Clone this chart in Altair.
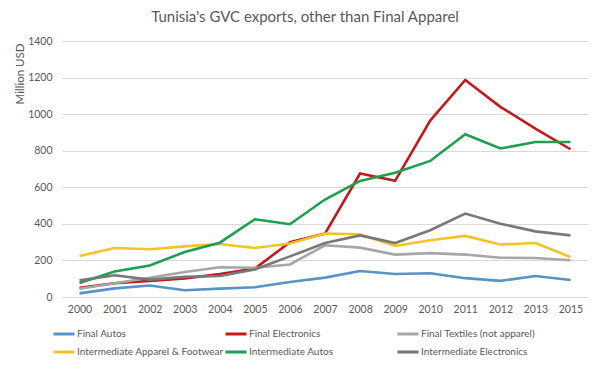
import altair as alt
import pandas as pd

years = ["2000", "2001", "2002", "2003", "2004", "2005", "2006", "2007",
         "2008", "2009", "2010", "2011", "2012", "2013", "2015"]

series_names = [
    "Final Autos",
    "Final Electronics",
    "Final Textiles (not apparel)",
    "Intermediate Apparel & Footwear",
    "Intermediate Autos",
    "Intermediate Electronics",
]

final_autos = [20, 47, 63, 37, 46, 53, 82, 106, 142, 126, 130, 103, 88, 115, 93]
final_electronics = [50, 75, 88, 102, 125, 155, 300, 347, 675, 635, 965, 1187, 1040, 921, 808]
final_textiles = [45, 75, 105, 137, 163, 160, 178, 283, 270, 232, 240, 232, 215, 213, 201]
inter_apparel = [224, 268, 261, 277, 290, 268, 293, 347, 343, 279, 310, 334, 287, 295, 219]
inter_autos = [77, 140, 172, 246, 297, 425, 398, 533, 635, 679, 744, 890, 812, 848, 848]
inter_electronics = [91, 119, 95, 110, 115, 150, 222, 295, 337, 295, 365, 456, 401, 359, 337]

colors = ["#5693C9", "#C4191B", "#A6A6A6", "#F5C227", "#1C9F4E", "#787878"]

all_values = [final_autos, final_electronics, final_textiles,
              inter_apparel, inter_autos, inter_electronics]

rows = []
for name, vals in zip(series_names, all_values):
    for y, v in zip(years, vals):
        rows.append({"Year": y, "Value": v, "Series": name})
df = pd.DataFrame(rows)

FONT = "Lato"
TXT = "#595959"

chart = alt.Chart(df).mark_line(strokeWidth=2.6, strokeJoin="miter").encode(
    x=alt.X("Year:O", sort=years,
            scale=alt.Scale(type="point", padding=0.5),
            axis=alt.Axis(title=None, labelAngle=0, domain=False, ticks=False,
                          labelPadding=7, labelFontSize=10.5, labelColor=TXT,
                          labelFont=FONT)),
    y=alt.Y("Value:Q", scale=alt.Scale(domain=[0, 1400]),
            axis=alt.Axis(title="Million USD", values=[0, 200, 400, 600, 800, 1000, 1200, 1400],
                          format="d",
                          domain=False, ticks=False, labelPadding=10,
                          labelFontSize=10.5, labelColor=TXT, labelFont=FONT,
                          grid=True, gridColor="#D9D9D9", gridWidth=1,
                          titleFont=FONT, titleFontSize=11.5, titleColor=TXT,
                          titleFontWeight="normal", titleAngle=-90,
                          titleX=-42, titleY=2, titleAlign="right",
                          titleBaseline="middle")),
    color=alt.Color("Series:N", sort=series_names,
                    scale=alt.Scale(domain=series_names, range=colors),
                    legend=alt.Legend(title=None, orient="none", legendX=-10, legendY=281,
                                      direction="horizontal",
                                      columns=3, gridAlign="all", columnPadding=-8,
                                      rowPadding=0, symbolType="stroke",
                                      symbolSize=441, symbolStrokeWidth=3,
                                      labelOffset=1, labelFont=FONT,
                                      labelFontSize=10, labelColor=TXT,
                                      labelLimit=300)),
    order=alt.Order("Year:O"),
).properties(
    width=526,
    height=256,
    padding={"left": 54, "top": 33, "right": 4, "bottom": 60},
    autosize=alt.AutoSizeParams(type="none"),
    title=alt.TitleParams("Tunisia's GVC exports, other than Final Apparel",
                          font=FONT, fontSize=15, fontWeight="normal",
                          color=TXT, anchor="middle", dx=-20, offset=11),
).configure_view(stroke=None)

chart.save("out.html", embed_options={"renderer": "svg", "actions": False})
